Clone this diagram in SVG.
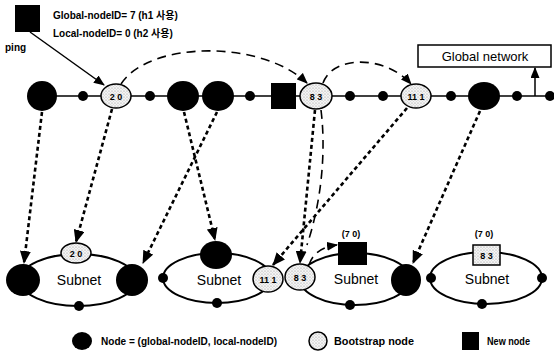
<svg xmlns="http://www.w3.org/2000/svg" width="554" height="354" viewBox="0 0 554 354">
  <style>
    text { font-family: "Liberation Sans", Arial, "Noto Sans CJK KR", sans-serif; fill: #000; }
    .lbl { font-size: 10px; font-weight: bold; }
    .leg { font-size: 10px; font-weight: bold; }
    .id { font-size: 9px; font-weight: bold; text-anchor: middle; }
    .sub { font-size: 14px; text-anchor: middle; }
    .big { fill: #000; }
    .dot { fill: #000; }
    .boot { fill: url(#stipple); stroke: #000; stroke-width: 1.5; }
    .ring { fill: #fff; stroke: #000; stroke-width: 2; }
    .bus { stroke: #000; stroke-width: 1.6; fill: none; }
    .solid { stroke: #000; stroke-width: 1.5; fill: none; }
    .dash { stroke: #000; stroke-width: 1.6; fill: none; stroke-dasharray: 9 6; }
    .dotted { stroke: #000; stroke-width: 2.6; fill: none; stroke-dasharray: 4 3; }
  </style>
  <defs>
    <pattern id="stipple" width="3" height="3" patternUnits="userSpaceOnUse">
      <rect width="3" height="3" fill="#f4f4f4"/>
      <circle cx="1" cy="1" r="0.6" fill="#999"/>
      <circle cx="2.5" cy="2.5" r="0.4" fill="#bbb"/>
    </pattern>
    <marker id="ah" markerUnits="userSpaceOnUse" markerWidth="11" markerHeight="9" refX="10" refY="4.5" orient="auto">
      <path d="M0,0 L11,4.5 L0,9 z" fill="#000"/>
    </marker>
    <marker id="ahb" markerUnits="userSpaceOnUse" markerWidth="13" markerHeight="11" refX="12" refY="5.5" orient="auto">
      <path d="M0,0 L13,5.5 L0,11 z" fill="#000"/>
    </marker>
  </defs>

  <!-- joining node with its chosen IDs -->
  <g id="new-node-top">
    <rect x="15" y="5" width="25" height="27" fill="#000"/>
    <text class="lbl" x="53" y="19">Global-nodeID= 7 (h1 사용)</text>
    <text class="lbl" x="53" y="37">Local-nodeID= 0 (h2 사용)</text>
    <text class="lbl" x="5" y="51">ping</text>
  </g>

  <!-- global backbone line -->
  <g id="backbone">
    <line class="bus" x1="42" y1="96" x2="554" y2="96"/>
  </g>

  <g id="global-network">
    <rect x="418" y="45" width="133" height="22" fill="#fff" stroke="#000" stroke-width="1.5"/>
    <text x="485" y="61" font-size="13" text-anchor="middle">Global network</text>
  </g>

  <!-- backbone nodes -->
  <g id="g-n1"><ellipse class="big" cx="42" cy="96" rx="15" ry="15"/></g>
  <g id="g-d1"><circle class="dot" cx="83" cy="96" r="5"/></g>
  <g id="g-b20"><ellipse class="boot" cx="116" cy="96" rx="15" ry="12"/><text class="id" x="116" y="99.5">2 0</text></g>
  <g id="g-d2"><circle class="dot" cx="150" cy="96" r="5"/></g>
  <g id="g-n2"><ellipse class="big" cx="183" cy="96" rx="16" ry="15"/></g>
  <g id="g-n3"><ellipse class="big" cx="218" cy="96" rx="16" ry="15"/></g>
  <g id="g-d3"><circle class="dot" cx="250" cy="96" r="5"/></g>
  <g id="g-new"><rect x="271" y="83" width="25" height="26" fill="#000"/></g>
  <g id="g-b83"><ellipse class="boot" cx="316" cy="96" rx="16" ry="13"/><text class="id" x="316" y="99.5">8 3</text></g>
  <g id="g-d4"><circle class="dot" cx="350" cy="96" r="5"/></g>
  <g id="g-d5"><circle class="dot" cx="383" cy="96" r="5"/></g>
  <g id="g-b111"><ellipse class="boot" cx="416" cy="96" rx="15" ry="12"/><text class="id" x="416" y="99.5">11 1</text></g>
  <g id="g-d6"><circle class="dot" cx="451" cy="96" r="5"/></g>
  <g id="g-n4"><ellipse class="big" cx="484" cy="96" rx="16" ry="14"/></g>
  <g id="g-d7"><circle class="dot" cx="517" cy="96" r="5"/></g>
  <g id="g-d8"><circle class="dot" cx="550" cy="96" r="5"/></g>

  <!-- subnet 1 -->
  <g id="subnet1">
    <ellipse class="ring" cx="78" cy="280" rx="58" ry="26"/>
    <text class="sub" x="79" y="285">Subnet</text>
    <ellipse class="big" cx="23" cy="280" rx="17" ry="16"/>
    <ellipse class="big" cx="132" cy="280" rx="16" ry="16"/>
    <ellipse class="boot" cx="76" cy="253" rx="15" ry="10"/>
    <text class="id" x="76" y="256.5">2 0</text>
    <circle class="dot" cx="79" cy="306" r="5"/>
  </g>

  <!-- subnet 2 -->
  <g id="subnet2">
    <ellipse class="ring" cx="217" cy="278" rx="54" ry="25"/>
    <text class="sub" x="219" y="285">Subnet</text>
    <ellipse class="big" cx="216" cy="255" rx="16" ry="14"/>
    <circle class="dot" cx="163" cy="278" r="5"/>
    <circle class="dot" cx="217" cy="303" r="5"/>
    <ellipse class="boot" cx="268" cy="279" rx="15" ry="13"/>
    <text class="id" x="268" y="282.5">11 1</text>
  </g>

  <!-- subnet 3 -->
  <g id="subnet3">
    <ellipse class="ring" cx="355" cy="279" rx="55" ry="26"/>
    <text class="sub" x="356" y="284">Subnet</text>
    <ellipse class="boot" cx="300" cy="277" rx="15" ry="13"/>
    <text class="id" x="300" y="280.5">8 3</text>
    <rect x="338" y="242" width="29" height="23" fill="#000"/>
    <text class="id" x="351" y="237">(7 0)</text>
    <ellipse class="big" cx="406" cy="280" rx="15" ry="16"/>
    <circle class="dot" cx="350" cy="305" r="5"/>
  </g>

  <!-- subnet 4 -->
  <g id="subnet4">
    <ellipse class="ring" cx="486" cy="278" rx="56" ry="26"/>
    <text class="sub" x="487" y="284">Subnet</text>
    <rect x="473" y="245" width="27" height="20" fill="url(#stipple)" stroke="#000" stroke-width="1.5"/>
    <text class="id" x="486.5" y="258.5">8 3</text>
    <text class="id" x="484" y="237">(7 0)</text>
    <circle class="dot" cx="431" cy="278" r="5"/>
    <circle class="dot" cx="542" cy="278" r="5"/>
    <circle class="dot" cx="482" cy="304" r="5"/>
  </g>

  <!-- connectors -->
  <g id="connectors">
    <path class="solid" d="M30,32 L104,85" marker-end="url(#ah)"/>
    <path class="dash" d="M121,84 C150,40 262,40 307,83" marker-end="url(#ah)"/>
    <path class="dash" d="M323,83 C333,55 385,55 411,84" marker-end="url(#ah)"/>
    <path class="solid" d="M535,96 L535,68" marker-end="url(#ah)"/>
    <path class="dotted" d="M42,112 L24,263" marker-end="url(#ahb)"/>
    <path class="dotted" d="M112,109 L76,242" marker-end="url(#ahb)"/>
    <path class="dotted" d="M184,112 L215,240" marker-end="url(#ahb)"/>
    <path class="dotted" d="M217,112 L143,263" marker-end="url(#ahb)"/>
    <path class="dotted" d="M315,110 L300,263" marker-end="url(#ahb)"/>
    <path class="dash" d="M321,110 C326,150 322,200 307,245"/>
    <path class="dotted" d="M407,108 L273,265" marker-end="url(#ahb)"/>
    <path class="dotted" d="M480,111 L413,263" marker-end="url(#ahb)"/>
    <path class="dash" d="M309,265 Q314,248 337,245" stroke-dasharray="6 4" marker-end="url(#ah)"/>
  </g>

  <!-- legend -->
  <g id="legend">
    <ellipse class="big" cx="82" cy="341" rx="10" ry="9"/>
    <text class="leg" x="101" y="345" textLength="176" lengthAdjust="spacingAndGlyphs">Node = (global-nodeID, local-nodeID)</text>
    <circle class="boot" cx="318" cy="341" r="9"/>
    <text class="leg" x="334" y="345" textLength="80" lengthAdjust="spacingAndGlyphs">Bootstrap node</text>
    <rect x="462" y="332" width="17" height="18" fill="#000"/>
    <text class="leg" x="487" y="345" textLength="43" lengthAdjust="spacingAndGlyphs">New node</text>
  </g>
</svg>
